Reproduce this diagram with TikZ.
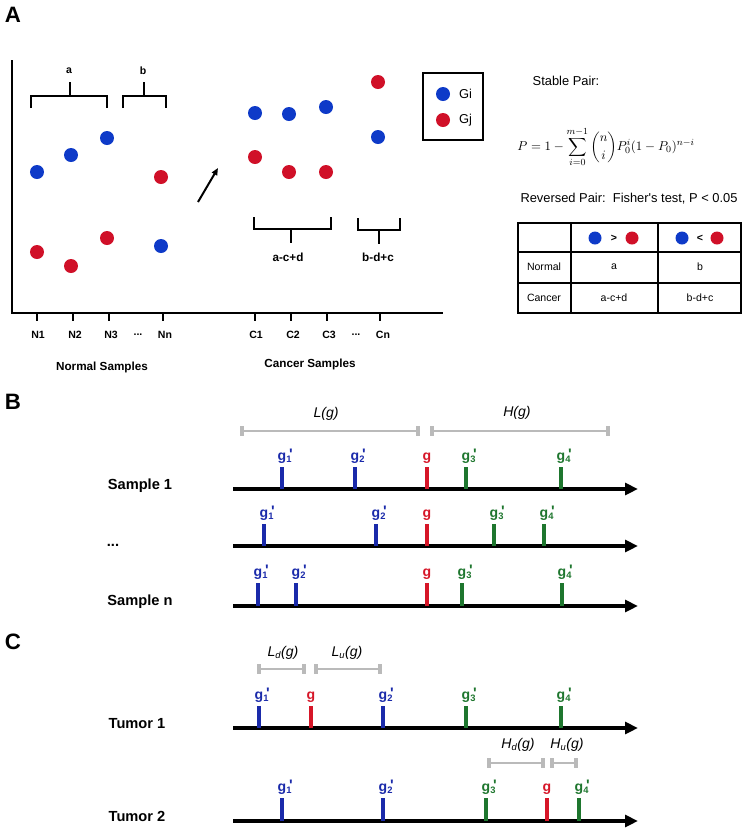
\documentclass[tikz,border=0pt]{standalone}
\usepackage{fontspec}
\setmainfont{Liberation Sans}
\setsansfont{Liberation Sans}
\usepackage{amsmath}
\usetikzlibrary{arrows.meta}

\definecolor{dotblue}{RGB}{14,58,200}
\definecolor{dotred}{RGB}{208,16,40}
\definecolor{tickblue}{RGB}{26,42,170}
\definecolor{tickred}{RGB}{214,22,40}
\definecolor{tickgreen}{RGB}{30,118,46}
\definecolor{spangray}{RGB}{186,186,186}

% gene label: g with subscript index and prime
\newcommand{\gmark}[1]{g\rlap{\textsubscript{#1}}\rlap{\raisebox{0.1ex}{\hspace{0.2em}\fontsize{13}{13}\selectfont\textquotesingle}}}

\begin{document}
\begin{tikzpicture}[
  x=0.03cm, y=-0.03cm,
  font=\sffamily,
  every node/.style={font=\sffamily},
  panel/.style={font=\fontsize{19}{22}\selectfont\bfseries, inner sep=0pt},
  dotb/.style={circle, fill=dotblue, inner sep=0pt, minimum size=0.42cm},
  dotr/.style={circle, fill=dotred, inner sep=0pt, minimum size=0.42cm},
  dotsb/.style={dotb, minimum size=0.39cm},
  dotsr/.style={dotr, minimum size=0.39cm},
  axisline/.style={line width=2.5pt},
  tickmark/.style={line width=1.7pt},
  brace/.style={line width=2.1pt},
  samp/.style={font=\fontsize{9}{10}\selectfont\bfseries},
  grp/.style={font=\fontsize{10}{12}\selectfont\bfseries},
  txt/.style={font=\fontsize{11}{13}\selectfont},
  cell/.style={font=\fontsize{9}{11}\selectfont},
  rowname/.style={font=\fontsize{12.5}{15}\selectfont\bfseries},
  gl/.style={font=\fontsize{12}{14}\selectfont\bfseries, inner sep=0pt, anchor=south, yshift=1.5pt},
  tickb/.style={line width=2.8pt, draw=tickblue},
  tickr/.style={line width=2.8pt, draw=tickred},
  tickg/.style={line width=2.8pt, draw=tickgreen},
  timeline/.style={line width=2.9pt, -{Triangle[length=11pt,width=10pt]}},
  span/.style={draw=spangray, line width=2pt, {Bar[width=8pt,line width=3pt]}-{Bar[width=8pt,line width=3pt]}},
  spanlab/.style={font=\fontsize{12}{14}\selectfont\itshape}
]
\useasboundingbox (0,0) rectangle (748,829);

% === PANEL A ===
\node[panel] (lblA) at (13,15) {A};

% axes
\draw[axisline] (12,60) -- (12,313) -- (443,313);
\draw[tickmark] (37,313) -- (37,321);
\draw[tickmark] (73,313) -- (73,321);
\draw[tickmark] (109,313) -- (109,321);
\draw[tickmark] (163,313) -- (163,321);
\draw[tickmark] (255,313) -- (255,321);
\draw[tickmark] (291,313) -- (291,321);
\draw[tickmark] (327,313) -- (327,321);
\draw[tickmark] (380,313) -- (380,321);

% sample labels
\node[samp] (n1) at (38,335) {N1};
\node[samp] (n2) at (75,335) {N2};
\node[samp] (n3) at (111,335) {N3};
\node[samp] (ndots) at (138,335) {...};
\node[samp] (nn) at (165,335) {Nn};
\node[samp] (c1) at (256,335) {C1};
\node[samp] (c2) at (293,335) {C2};
\node[samp] (c3) at (329,335) {C3};
\node[samp] (cdots) at (356,335) {...};
\node[samp] (cn) at (383,335) {Cn};
\node[grp] (normal) at (102,367) {Normal Samples};
\node[grp] (cancer) at (310,364) {Cancer Samples};

% normal samples
\node[dotb] (n1i) at (37,172) {};
\node[dotb] (n2i) at (71,155) {};
\node[dotb] (n3i) at (107,138) {};
\node[dotr] (nni) at (161,177) {};
\node[dotr] (n1j) at (37,252) {};
\node[dotr] (n2j) at (71,266) {};
\node[dotr] (n3j) at (107,238) {};
\node[dotb] (nnj) at (161,246) {};

% cancer samples
\node[dotb] (c1i) at (255,113) {};
\node[dotb] (c2i) at (289,114) {};
\node[dotb] (c3i) at (326,107) {};
\node[dotb] (cni) at (378,137) {};
\node[dotr] (c1j) at (255,157) {};
\node[dotr] (c2j) at (289,172) {};
\node[dotr] (c3j) at (326,172) {};
\node[dotr] (cnj) at (378,82) {};

% brackets
\draw[brace] (31,108) -- (31,96) -- (107,96) -- (107,108);
\draw[brace] (70,96) -- (70,82);
\node[samp] (ba) at (69,71) {a};
\draw[brace] (123,108) -- (123,96) -- (166,96) -- (166,108);
\draw[brace] (144,96) -- (144,82);
\node[samp] (bb) at (143,71) {b};
\draw[brace] (254,217) -- (254,229) -- (331,229) -- (331,217);
\draw[brace] (291,229) -- (291,243);
\node[grp] (bacd) at (288,257) {a-c+d};
\draw[brace] (358,218) -- (358,230) -- (400,230) -- (400,218);
\draw[brace] (379,230) -- (379,244);
\node[grp] (bbdc) at (378,257) {b-d+c};

% shift arrow
\coordinate (shift0) at (198,202);
\coordinate (shift1) at (218,168);
\draw[line width=1.7pt, -{Triangle[length=6pt,width=5pt]}] (shift0) -- (shift1);

% legend
\draw[line width=1.3pt] (423,73) rectangle (483,140);
\node[dotb] (legi) at (443,94) {};
\node[txt, anchor=west] (gi) at (455,94) {Gi};
\node[dotr] (legj) at (443,120) {};
\node[txt, anchor=west] (gj) at (455,120) {Gj};

% tests
\node[txt] (stable) at (566,81) {Stable Pair:};
\node[font=\fontsize{11}{13}\selectfont] (formula) at (606,147)
  {$\displaystyle P = 1-\sum_{i=0}^{m-1}\binom{n}{i}P_0^i(1-P_0)^{n-i}$};
\node[txt] (reversed) at (629,199) {Reversed Pair:\ \ Fisher\textquotesingle s test, P < 0.05};

% contingency table
\draw[line width=1.1pt] (518,223) rectangle (741,313);
\draw[line width=1.1pt] (571,223) -- (571,313);
\draw[line width=1.1pt] (658,223) -- (658,313);
\draw[line width=1.1pt] (518,252) -- (741,252);
\draw[line width=1.1pt] (518,283) -- (741,283);
\node[dotsb] (h1i) at (595,238) {};
\node[cell, font=\fontsize{9}{11}\selectfont\bfseries] (gt) at (614,238) {>};
\node[dotsr] (h1j) at (632,238) {};
\node[dotsb] (h2i) at (682,238) {};
\node[cell, font=\fontsize{9}{11}\selectfont\bfseries] (lt) at (700,238) {<};
\node[dotsr] (h2j) at (717,238) {};
\node[cell] (rnormal) at (544,267) {Normal};
\node[cell] (na) at (614,267) {a};
\node[cell] (nb) at (700,267) {b};
\node[cell] (rcancer) at (544,298) {Cancer};
\node[cell] (ca) at (614,298) {a-c+d};
\node[cell] (cb) at (700,298) {b-d+c};

% === PANEL B ===
\node[panel] (lblB) at (13,402) {B};
\draw[span] (240,431) -- (420,431);
\draw[span] (430,431) -- (610,431);
\node[spanlab] (lg) at (326,414) {L(g)};
\node[spanlab] (hg) at (517,413) {H(g)};

\node[rowname] (s1) at (140,486) {Sample 1};
\node[rowname] (sdots) at (113,545) {...};
\node[rowname] (sn) at (140,602) {Sample n};

\draw[timeline] (233,489) -- (638,489);
\draw[tickb] (282,489) -- (282,467) node[gl, text=tickblue] (s1g1) {\gmark{1}};
\draw[tickb] (355,489) -- (355,467) node[gl, text=tickblue] (s1g2) {\gmark{2}};
\draw[tickr] (427,489) -- (427,467) node[gl, text=tickred] (s1g) {g};
\draw[tickg] (466,489) -- (466,467) node[gl, text=tickgreen] (s1g3) {\gmark{3}};
\draw[tickg] (561,489) -- (561,467) node[gl, text=tickgreen] (s1g4) {\gmark{4}};

\draw[timeline] (233,546) -- (638,546);
\draw[tickb] (264,546) -- (264,524) node[gl, text=tickblue] (s2g1) {\gmark{1}};
\draw[tickb] (376,546) -- (376,524) node[gl, text=tickblue] (s2g2) {\gmark{2}};
\draw[tickr] (427,546) -- (427,524) node[gl, text=tickred] (s2g) {g};
\draw[tickg] (494,546) -- (494,524) node[gl, text=tickgreen] (s2g3) {\gmark{3}};
\draw[tickg] (544,546) -- (544,524) node[gl, text=tickgreen] (s2g4) {\gmark{4}};

\draw[timeline] (233,606) -- (638,606);
\draw[tickb] (258,606) -- (258,583) node[gl, text=tickblue] (s3g1) {\gmark{1}};
\draw[tickb] (296,606) -- (296,583) node[gl, text=tickblue] (s3g2) {\gmark{2}};
\draw[tickr] (427,606) -- (427,583) node[gl, text=tickred] (s3g) {g};
\draw[tickg] (462,606) -- (462,583) node[gl, text=tickgreen] (s3g3) {\gmark{3}};
\draw[tickg] (562,606) -- (562,583) node[gl, text=tickgreen] (s3g4) {\gmark{4}};

% === PANEL C ===
\node[panel] (lblC) at (13,642) {C};
\draw[span] (257,669) -- (306,669);
\draw[span] (314,669) -- (382,669);
\node[spanlab] (ldg) at (283,653) {L\textsubscript{d}(g)};
\node[spanlab] (lug) at (347,653) {L\textsubscript{u}(g)};
\draw[span] (487,763) -- (545,763);
\draw[span] (550,763) -- (578,763);
\node[spanlab] (hdg) at (518,745) {H\textsubscript{d}(g)};
\node[spanlab] (hug) at (567,745) {H\textsubscript{u}(g)};

\node[rowname] (t1) at (137,724) {Tumor 1};
\node[rowname] (t2) at (137,816) {Tumor 2};

\draw[timeline] (233,728) -- (638,728);
\draw[tickb] (259,728) -- (259,706) node[gl, text=tickblue] (t1g1) {\gmark{1}};
\draw[tickr] (311,728) -- (311,706) node[gl, text=tickred] (t1g) {g};
\draw[tickb] (383,728) -- (383,706) node[gl, text=tickblue] (t1g2) {\gmark{2}};
\draw[tickg] (466,728) -- (466,706) node[gl, text=tickgreen] (t1g3) {\gmark{3}};
\draw[tickg] (561,728) -- (561,706) node[gl, text=tickgreen] (t1g4) {\gmark{4}};

\draw[timeline] (233,821) -- (638,821);
\draw[tickb] (282,821) -- (282,798) node[gl, text=tickblue] (t2g1) {\gmark{1}};
\draw[tickb] (383,821) -- (383,798) node[gl, text=tickblue] (t2g2) {\gmark{2}};
\draw[tickg] (486,821) -- (486,798) node[gl, text=tickgreen] (t2g3) {\gmark{3}};
\draw[tickr] (547,821) -- (547,798) node[gl, text=tickred] (t2g) {g};
\draw[tickg] (579,821) -- (579,798) node[gl, text=tickgreen] (t2g4) {\gmark{4}};

\end{tikzpicture}
\end{document}
